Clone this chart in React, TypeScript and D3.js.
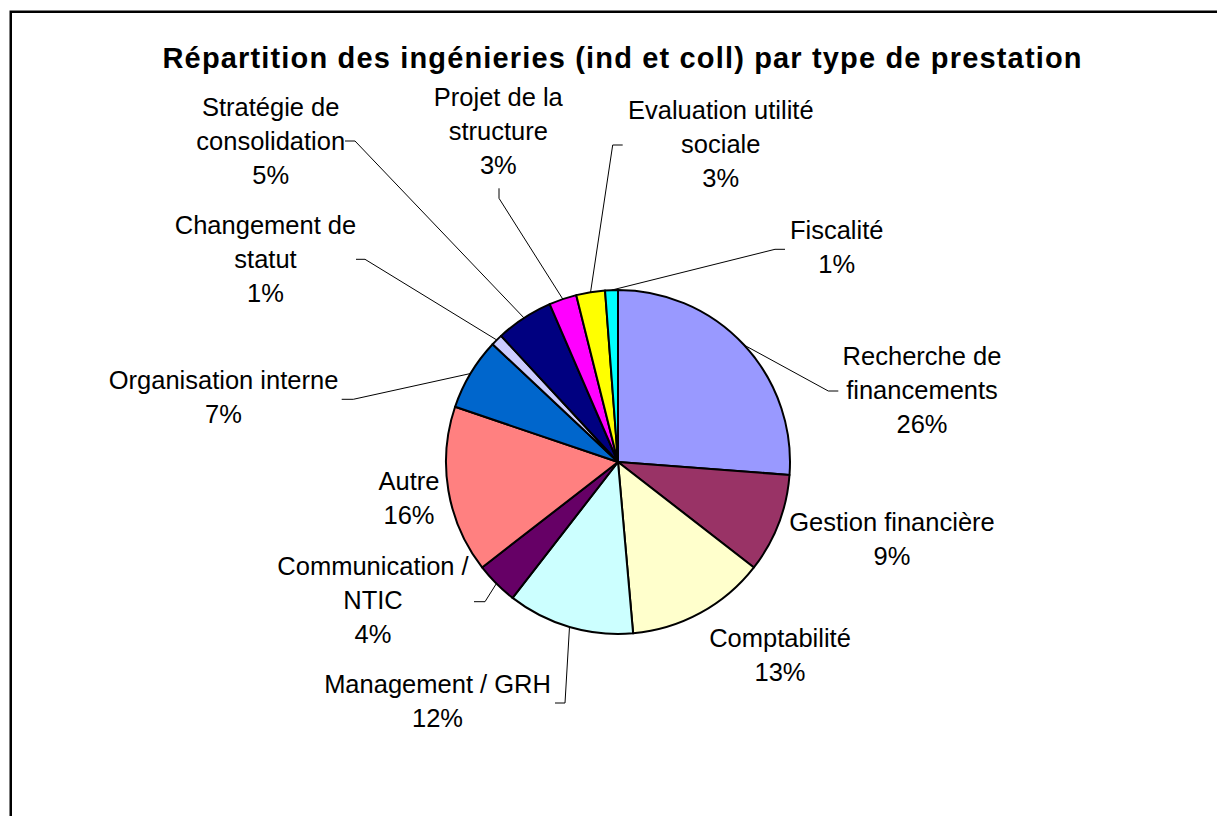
import React from 'react';
import * as d3 from 'd3';

// categories (clockwise from 12 o'clock)
const categories = [
  ['Recherche de', 'financements'],
  ['Gestion financière'],
  ['Comptabilité'],
  ['Management / GRH'],
  ['Communication /', 'NTIC'],
  ['Autre'],
  ['Organisation interne'],
  ['Changement de', 'statut'],
  ['Stratégie de', 'consolidation'],
  ['Projet de la', 'structure'],
  ['Evaluation utilité', 'sociale'],
  ['Fiscalité'],
];

// share of each prestation (%)
const values = [26.2, 9.3, 13.1, 11.9, 4.0, 15.7, 6.8, 1.1, 5.4, 2.6, 2.7, 1.2];

const colors = [
  '#9999FF', '#993366', '#FFFFCC', '#CCFFFF', '#660066', '#FF8080',
  '#0066CC', '#CCCCFF', '#000080', '#FF00FF', '#FFFF00', '#00FFFF',
];

// label block centre, relative to pie centre
const labelOffsets = [
  [304, -71.5], [274, 77], [162, 193.5], [-180.5, 239.5], [-245, 138], [-209, 36.5],
  [-394.5, -65], [-352.5, -203], [-347.3, -321], [-119.7, -331], [102.8, -317.5], [218.7, -214.5],
];

// leader: [elbowX, elbowY, stubX, stubY] relative to label centre
const leaders = [
  [-93.7, 0.5, -83.7, 0.5], null, null, [127.5, 1.5, 117.5, 1.5], [112, 1.7, 101, 1.7], null,
  [129.8, 2.3, 118.2, 2.3], [99.5, 0.3, 90.5, 0.3], [84.3, 0, 74.3, 0], [0.7, 67.3, 0.7, 57.3],
  [-108.1, 0.5, -98.1, 0.5], [-61.7, 1.8, -51.7, 1.8],
];

const W = 1217;
const H = 816;
const cx = 618;
const cy = 462;
const R = 172;
const fontSize = 25.5;
const lineH = 34;
const font = '"Liberation Sans", Arial, sans-serif';

export default function App() {
  const pie = d3.pie<number>().sort(null).value((d) => d)(values);
  const arc = d3.arc<d3.PieArcDatum<number>>().innerRadius(0).outerRadius(R);
  const total = d3.sum(values);

  return (
    <svg width={W} height={H} style={{ position: 'absolute', left: 0, top: 0, background: '#fff' }}
      fontFamily={font}>
      <rect x={10.75} y={11.75} width={1400} height={1000} fill="#fff" stroke="#000" strokeWidth={2.5} />
      <text x={622} y={67.5} textAnchor="middle" fontSize={29} fontWeight="bold"
        textLength={919} lengthAdjust="spacing">
        Répartition des ingénieries (ind et coll) par type de prestation
      </text>
      <g transform={`translate(${cx},${cy})`}>
        {pie.map((p, i) => (
          <path key={i} d={arc(p) || ''} fill={colors[i]} stroke="#000" strokeWidth={2} strokeLinejoin="round" />
        ))}
        {pie.map((p, i) => {
          const ld = leaders[i];
          if (!ld) return null;
          const a = (p.startAngle + p.endAngle) / 2;
          const px = R * Math.sin(a);
          const py = -R * Math.cos(a);
          const [lx, ly] = labelOffsets[i];
          const pts = [[px, py], [lx + ld[0], ly + ld[1]], [lx + ld[2], ly + ld[3]]];
          return (
            <polyline key={'l' + i} points={pts.map((q) => q.join(',')).join(' ')}
              fill="none" stroke="#000" strokeWidth={1} />
          );
        })}
        {pie.map((p, i) => {
          const lines = [...categories[i], `${Math.round((values[i] / total) * 100)}%`];
          const [lx, ly] = labelOffsets[i];
          const y0 = ly - ((lines.length - 1) * lineH) / 2 + fontSize * 0.35;
          return (
            <text key={'t' + i} x={lx} y={y0} textAnchor="middle" fontSize={fontSize}>
              {lines.map((s, j) => (
                <tspan key={j} x={lx} y={y0 + j * lineH}>{s}</tspan>
              ))}
            </text>
          );
        })}
      </g>
    </svg>
  );
}
